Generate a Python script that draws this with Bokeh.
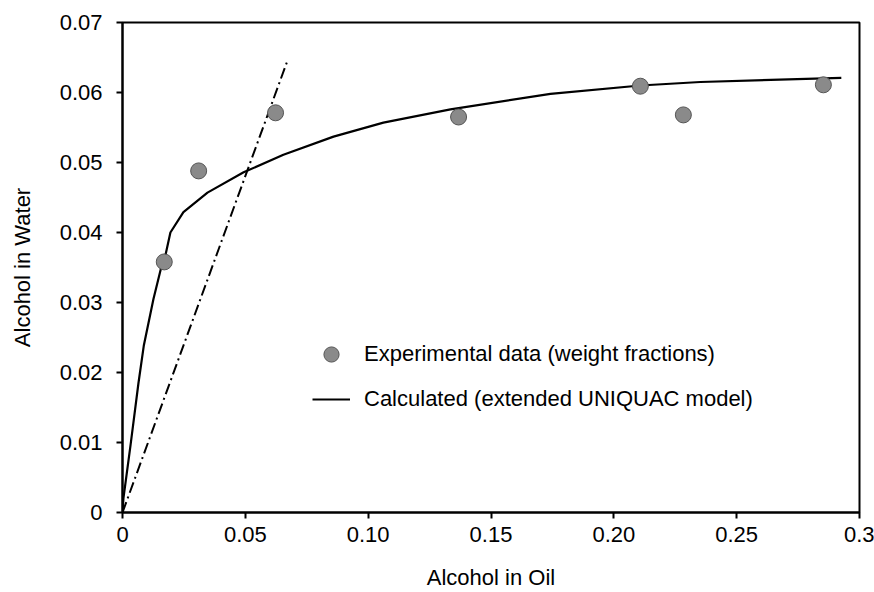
from bokeh.plotting import figure
from bokeh.models import Range1d, FixedTicker, Legend, LegendItem
from bokeh.embed import file_html
from bokeh.resources import INLINE

# Experimental data (weight fractions)
exp_x = [0.017, 0.031, 0.0623, 0.1368, 0.2108, 0.2283, 0.2853]
exp_y = [0.0358, 0.0488, 0.0571, 0.0565, 0.0609, 0.0568, 0.0611]

# Calculated (extended UNIQUAC model)
calc_x = [0, 0.0004, 0.0033, 0.0065, 0.0087, 0.0126, 0.0159, 0.0175, 0.0195,
          0.0248, 0.0346, 0.0493, 0.0655, 0.0859, 0.1062, 0.1335, 0.1742,
          0.2108, 0.2352, 0.2926]
calc_y = [0, 0.0021, 0.0097, 0.0185, 0.0239, 0.0305, 0.0352, 0.0368, 0.0400,
          0.0429, 0.0457, 0.0486, 0.0511, 0.0537, 0.0557, 0.0576, 0.0598,
          0.0610, 0.0615, 0.0621]

# Dash-dot straight line
lin_x = [0, 0.0671]
lin_y = [0, 0.0645]

x_ticks = [0, 0.05, 0.10, 0.15, 0.20, 0.25, 0.3]
x_tick_labels = ["0", "0.05", "0.10", "0.15", "0.20", "0.25", "0.3"]
y_ticks = [0, 0.01, 0.02, 0.03, 0.04, 0.05, 0.06, 0.07]
y_tick_labels = ["0", "0.01", "0.02", "0.03", "0.04", "0.05", "0.06", "0.07"]

FONT = "Liberation Sans"
FS = "22px"

p = figure(width=874, height=592, output_backend="svg", toolbar_location=None,
           x_range=Range1d(0, 0.3), y_range=Range1d(0, 0.07),
           min_border_left=122, min_border_right=15, min_border_top=22, min_border_bottom=77)
p.grid.visible = False
p.background_fill_color = "white"
p.border_fill_color = "white"
p.outline_line_color = "black"
p.outline_line_width = 2

for ax, ticks, labels in ((p.xaxis[0], x_ticks, x_tick_labels), (p.yaxis[0], y_ticks, y_tick_labels)):
    ax.ticker = FixedTicker(ticks=ticks)
    ax.major_label_overrides = {t: l for t, l in zip(ticks, labels)}
    ax.minor_tick_line_color = None
    ax.major_tick_in = 0
    ax.major_tick_out = 6
    ax.major_tick_line_width = 2
    ax.axis_line_width = 2
    ax.axis_line_color = "black"
    ax.major_tick_line_color = "black"
    ax.major_label_text_font = FONT
    ax.major_label_text_font_size = FS
    ax.major_label_text_color = "black"
    ax.axis_label_text_font = FONT
    ax.axis_label_text_font_size = FS
    ax.axis_label_text_font_style = "normal"
    ax.axis_label_text_color = "black"

p.xaxis.axis_label = "Alcohol in Oil"
p.yaxis.axis_label = "Alcohol in Water"
p.xaxis.major_label_standoff = 8
p.yaxis.major_label_standoff = 14
p.xaxis.axis_label_standoff = 20
p.yaxis.axis_label_standoff = 22

p.line(lin_x, lin_y, line_color="black", line_width=2, line_dash="11 4 2 4")
calc = p.line(calc_x, calc_y, line_color="black", line_width=2.2, line_join="round")
exp = p.scatter(exp_x, exp_y, size=16, marker="circle", fill_color="#8a8a8a",
                line_color="#555555", line_width=1)

legend = Legend(items=[LegendItem(label="Experimental data (weight fractions)", renderers=[exp]),
                       LegendItem(label="Calculated (extended UNIQUAC model)", renderers=[calc])],
                location=(190, 93), orientation="vertical",
                border_line_color=None, background_fill_alpha=0,
                margin=0, padding=0, spacing=5,
                glyph_width=38, glyph_height=40, label_height=40, label_standoff=14,
                label_text_font=FONT, label_text_font_size=FS, label_text_color="black")
p.add_layout(legend, "center")

open("out.html", "w").write(file_html(p, INLINE))
